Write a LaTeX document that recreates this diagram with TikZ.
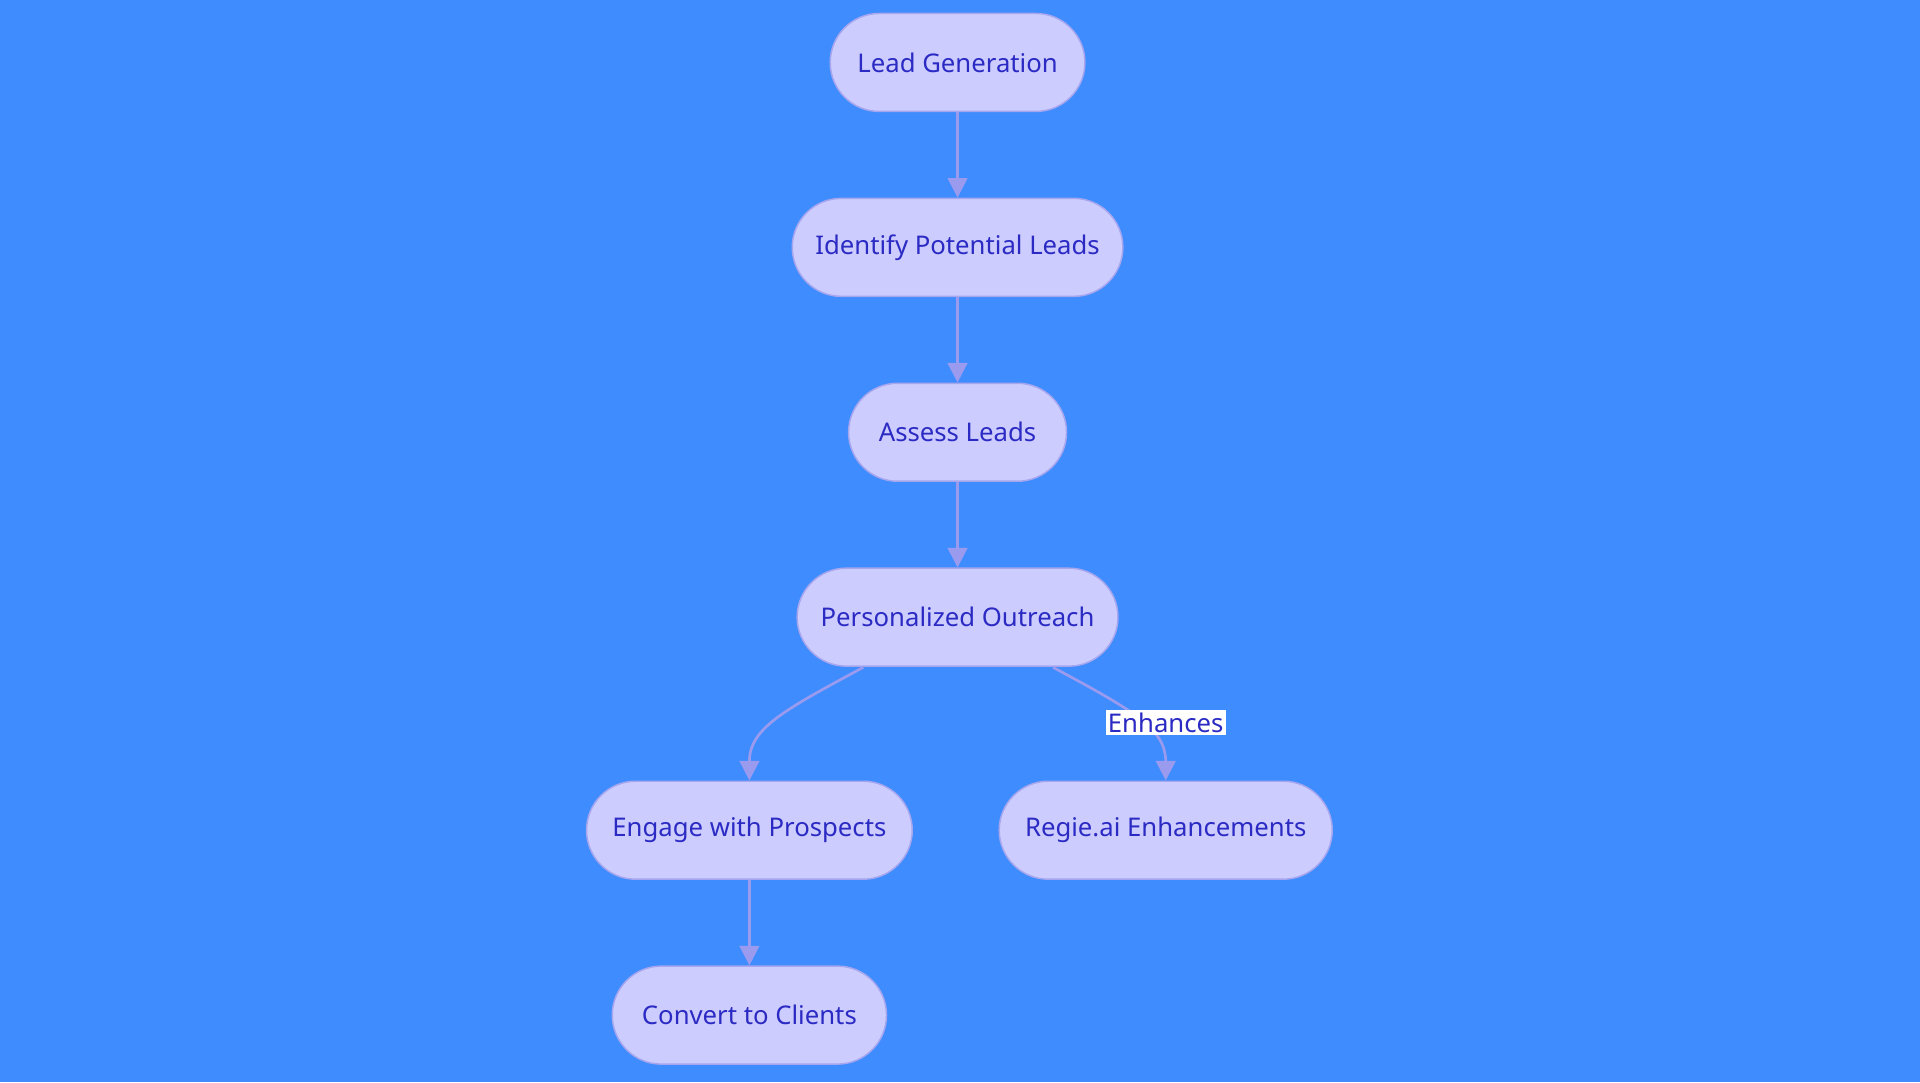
\documentclass[tikz,border=0pt]{standalone}
\usepackage{fontspec}
\setmainfont{Noto Sans}
\usetikzlibrary{arrows.meta}
\definecolor{bg}{HTML}{3F8CFF}
\definecolor{nf}{HTML}{CCCCFF}
\definecolor{nb}{HTML}{A6A6EE}
\definecolor{tx}{HTML}{2B2BC4}
\definecolor{ed}{HTML}{9A9AEE}
\begin{document}
\begin{tikzpicture}[x=0.5pt,y=-0.5pt,
  box/.style={draw=nb,line width=0.6pt,fill=nf,rounded corners=20pt,minimum height=40pt,text=tx,font=\fontsize{10.5}{12}\selectfont,inner xsep=0pt},
  arr/.style={draw=ed,line width=1.1pt,-{Triangle[length=8pt,width=8pt]}}]
\fill[bg] (0,0) rectangle (1568,884);
\useasboundingbox (0,0) rectangle (1568,884);
\node[box,minimum width=104pt] (a) at (782,51) {Lead Generation};
\node[box,minimum width=135pt] (b) at (782,202) {Identify Potential Leads};
\node[box,minimum width=89pt] (c) at (782,353) {Assess Leads};
\node[box,minimum width=131pt] (d) at (782,504) {Personalized Outreach};
\node[box,minimum width=133pt] (e) at (612,678) {Engage with Prospects};
\node[box,minimum width=136pt] (f) at (952,678) {Regie.ai Enhancements};
\node[box,minimum width=112pt] (g) at (612,829) {Convert to Clients};
\coordinate (d1) at (705,545);
\coordinate (d2) at (860,545);
\draw[arr] (a) -- (b);
\draw[arr] (b) -- (c);
\draw[arr] (c) -- (d);
\draw[arr] (e) -- (g);
\draw[arr] (d1) .. controls (640,580) and (612,595) .. (e.north);
\draw[arr] (d2) .. controls (925,580) and (952,595) .. (f.north);
\node[fill=white,text=tx,inner sep=1pt,font=\fontsize{10.5}{12}\selectfont] (l) at (952,590) {Enhances};
\end{tikzpicture}
\end{document}
